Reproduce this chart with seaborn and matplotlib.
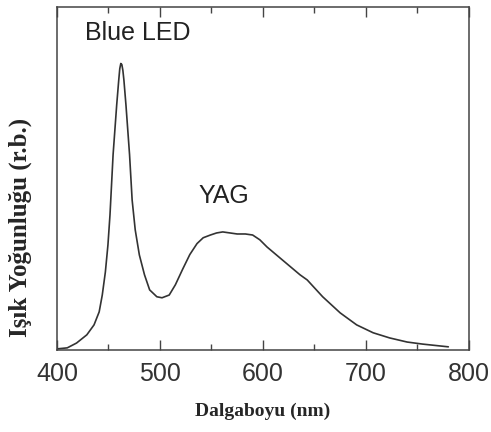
import numpy as np
import pandas as pd
import matplotlib
matplotlib.use("Agg")
import matplotlib.pyplot as plt
from matplotlib.ticker import MultipleLocator
import seaborn as sns

# ── DATA ──────────────────────────────────────────────────────────────────────
wavelength = [400, 410, 419, 429, 436, 441, 444, 447, 449.5, 451.5, 454.5, 458,
              460, 461, 462, 463, 464, 465, 467, 470.5, 473, 476, 480, 485, 490,
              497, 502, 509, 515, 522, 529, 536, 542, 549, 555, 561, 568, 575,
              583, 590, 597, 604, 619, 636, 643, 658, 675, 691, 707, 723, 740,
              755, 780]
intensity  = [0.003, 0.006, 0.020, 0.044, 0.073, 0.111, 0.160, 0.227, 0.306,
              0.394, 0.569, 0.714, 0.787, 0.820, 0.835, 0.832, 0.815, 0.787,
              0.714, 0.569, 0.437, 0.350, 0.277, 0.219, 0.175, 0.155, 0.152,
              0.160, 0.190, 0.235, 0.278, 0.310, 0.327, 0.335, 0.341, 0.344,
              0.341, 0.338, 0.338, 0.335, 0.321, 0.300, 0.262, 0.219, 0.204,
              0.155, 0.108, 0.073, 0.050, 0.035, 0.023, 0.017, 0.009]
xticks = [400, 500, 600, 700, 800]

df = pd.DataFrame({"wl": wavelength, "I": intensity})

# ── PLOT ──────────────────────────────────────────────────────────────────────
sns.set_theme(style="ticks")
plt.rcParams["font.family"] = ["Liberation Sans", "DejaVu Sans"]

fig = plt.figure(figsize=(4.91, 4.32), dpi=100)
ax = fig.add_axes([0.116, 0.190, 0.839, 0.794])

sns.lineplot(data=df, x="wl", y="I", ax=ax, color="#333333", linewidth=1.2)

ax.set_xlim(400, 800)
ax.set_ylim(0, 1)
ax.set_xticks(xticks)
ax.set_xticklabels([str(t) for t in xticks], fontsize=18, color="#333333")
ax.xaxis.set_minor_locator(MultipleLocator(50))
ax.tick_params(axis="x", which="major", direction="in", length=7, width=1,
               top=True, pad=9, color="#444444")
ax.tick_params(axis="x", which="minor", direction="in", length=4, width=1,
               top=True, color="#444444")
ax.set_yticks([])

for s in ax.spines.values():
    s.set_color("#444444")
    s.set_linewidth(1.1)

ax.text(478, 0.924, "Blue LED", fontsize=18, color="#222222", ha="center", va="center")
ax.text(562, 0.448, "YAG", fontsize=18, color="#222222", ha="center", va="center")

serif = ["Liberation Serif", "DejaVu Serif"]
ax.set_xlabel("Dalgaboyu (nm)", family=serif, fontweight="bold", fontsize=14,
              labelpad=12)
ax.set_ylabel("Işık Yoğunluğu (r.b.)", family=serif, fontweight="bold",
              fontsize=18)
ax.yaxis.set_label_coords(-0.06, 0.356)

fig.savefig("out.png", dpi=100)
plt.close(fig)
